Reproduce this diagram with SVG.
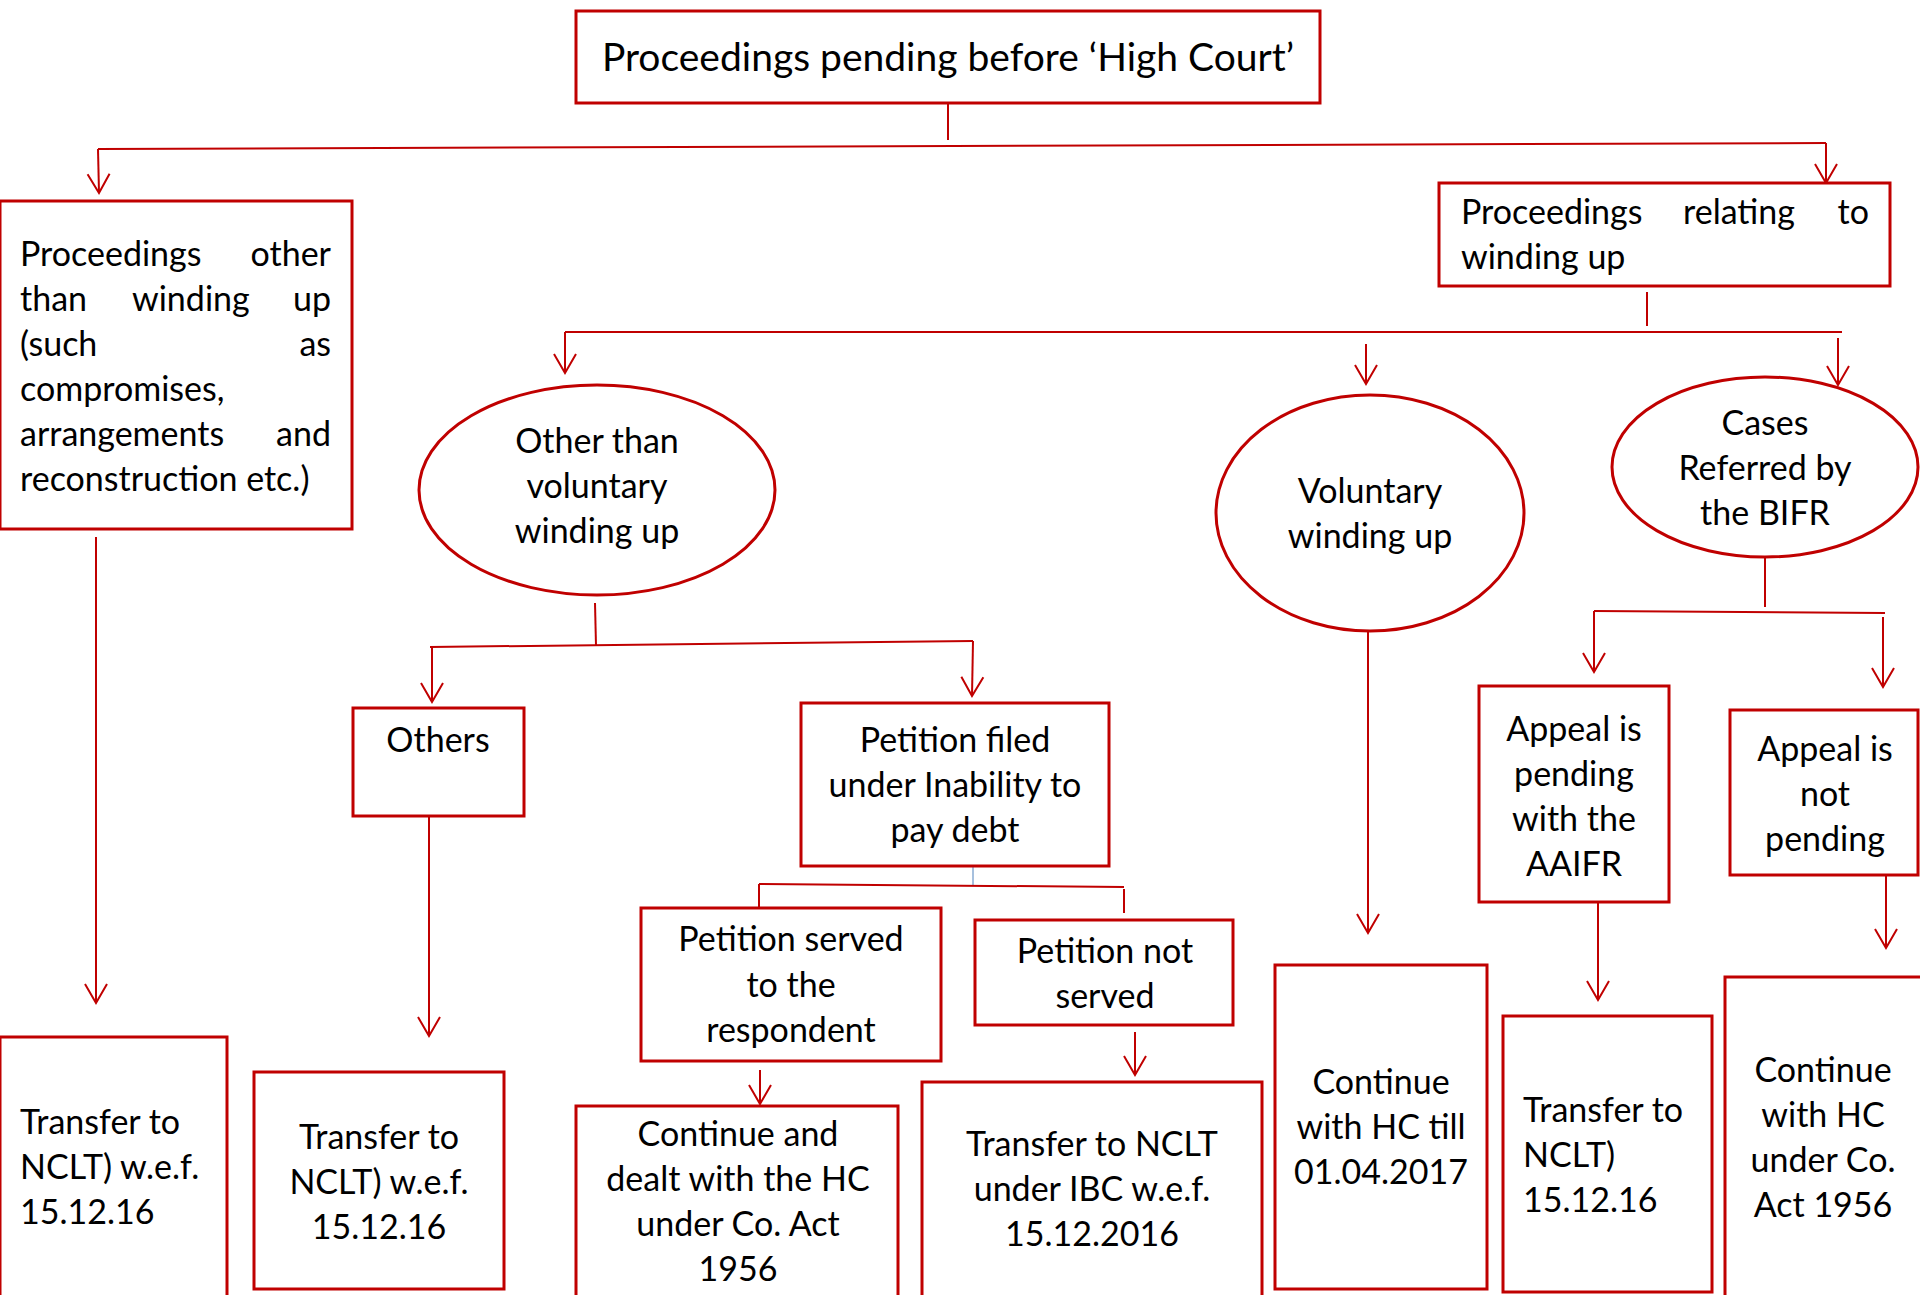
<svg xmlns="http://www.w3.org/2000/svg" width="1920" height="1295" viewBox="0 0 1920 1295">
<style>
.box{fill:#fff;stroke:#C00000;stroke-width:3}
.ell{fill:#fff;stroke:#C00000;stroke-width:3}
.ln{fill:none;stroke:#C00000;stroke-width:2}
.arr{fill:none;stroke:#C00000;stroke-width:2;marker-end:url(#ah)}
.blue{fill:none;stroke:#4F81BD;stroke-width:1}
text{font-family:Lato,"Open Sans","Liberation Sans",sans-serif;font-size:34px;fill:#000}
.c{text-anchor:middle}
.e{text-anchor:end}
</style>
<defs>
<marker id="ah" markerUnits="userSpaceOnUse" viewBox="0 0 22 26" refX="20" refY="13" markerWidth="22" markerHeight="26" orient="auto">
<path d="M1,2 L20,13 L1,24" fill="none" stroke="#C00000" stroke-width="2"/>
</marker>
</defs>
<rect width="1920" height="1295" fill="#fff"/>
<g id="connectors">
<line class="ln" x1="948" y1="104" x2="948" y2="140"/>
<line class="ln" x1="98" y1="149" x2="1826" y2="143"/>
<line class="arr" x1="98" y1="149" x2="99" y2="193"/>
<line class="arr" x1="1826" y1="143" x2="1826" y2="183"/>
<line class="ln" x1="1647" y1="292" x2="1647" y2="326"/>
<line class="ln" x1="565" y1="332" x2="1842" y2="332"/>
<line class="arr" x1="565" y1="332" x2="565" y2="373"/>
<line class="arr" x1="1366" y1="344" x2="1366" y2="384"/>
<line class="arr" x1="1838" y1="338" x2="1838" y2="385"/>
<line class="ln" x1="595" y1="603" x2="596" y2="646"/>
<line class="ln" x1="430" y1="647" x2="973" y2="641"/>
<line class="arr" x1="432" y1="647" x2="432" y2="702"/>
<line class="arr" x1="973" y1="641" x2="972" y2="696"/>
<line class="arr" x1="96" y1="537" x2="96" y2="1003"/>
<line class="arr" x1="429" y1="817" x2="429" y2="1036"/>
<line class="blue" x1="973" y1="867" x2="973" y2="886"/>
<line class="ln" x1="759" y1="908" x2="759" y2="884"/>
<line class="ln" x1="759" y1="884" x2="1124" y2="887"/>
<line class="ln" x1="1124" y1="889" x2="1124" y2="913"/>
<line class="arr" x1="760" y1="1070" x2="760" y2="1104"/>
<line class="arr" x1="1135" y1="1032" x2="1135" y2="1075"/>
<line class="arr" x1="1368" y1="631" x2="1368" y2="933"/>
<line class="ln" x1="1765" y1="557" x2="1765" y2="607"/>
<line class="ln" x1="1594" y1="611" x2="1885" y2="613"/>
<line class="arr" x1="1594" y1="611" x2="1594" y2="672"/>
<line class="arr" x1="1883" y1="617" x2="1883" y2="687"/>
<line class="arr" x1="1598" y1="903" x2="1598" y2="1000"/>
<line class="arr" x1="1886" y1="876" x2="1886" y2="948"/>
</g>
<g id="n-root">
<rect class="box" x="576" y="11" width="744" height="92"/>
<text class="c" x="948" y="71" style="font-size:39px">Proceedings pending before ‘High Court’</text>
</g>
<g id="n-other-than-winding">
<rect class="box" x="0" y="201" width="352" height="328"/>
<text x="20" y="266">Proceedings</text><text class="e" x="331" y="266">other</text>
<text x="20" y="311">than</text><text x="132" y="311">winding</text><text class="e" x="331" y="311">up</text>
<text x="20" y="356">(such</text><text class="e" x="331" y="356">as</text>
<text x="20" y="401">compromises,</text>
<text x="20" y="446">arrangements</text><text class="e" x="331" y="446">and</text>
<text x="20" y="491">reconstruction etc.)</text>
</g>
<g id="n-winding">
<rect class="box" x="1439" y="183" width="451" height="103"/>
<text x="1461" y="224">Proceedings</text><text x="1683" y="224">relating</text><text class="e" x="1869" y="224">to</text>
<text x="1461" y="269">winding up</text>
</g>
<g id="n-other-voluntary">
<ellipse class="ell" cx="597" cy="490" rx="178" ry="105"/>
<text class="c" x="597" y="453">Other than</text>
<text class="c" x="597" y="498">voluntary</text>
<text class="c" x="597" y="543">winding up</text>
</g>
<g id="n-voluntary">
<ellipse class="ell" cx="1370" cy="513" rx="154" ry="118"/>
<text class="c" x="1370" y="503">Voluntary</text>
<text class="c" x="1370" y="548">winding up</text>
</g>
<g id="n-bifr">
<ellipse class="ell" cx="1765" cy="467" rx="153" ry="90"/>
<text class="c" x="1765" y="435">Cases</text>
<text class="c" x="1765" y="480">Referred by</text>
<text class="c" x="1765" y="525">the BIFR</text>
</g>
<g id="n-others">
<rect class="box" x="353" y="708" width="171" height="108"/>
<text class="c" x="438" y="752">Others</text>
</g>
<g id="n-petition-filed">
<rect class="box" x="801" y="703" width="308" height="163"/>
<text class="c" x="955" y="752">Petition filed</text>
<text class="c" x="955" y="797">under Inability to</text>
<text class="c" x="955" y="842">pay debt</text>
</g>
<g id="n-appeal-pending">
<rect class="box" x="1479" y="686" width="190" height="216"/>
<text class="c" x="1574" y="741">Appeal is</text>
<text class="c" x="1574" y="786">pending</text>
<text class="c" x="1574" y="831">with the</text>
<text class="c" x="1574" y="876">AAIFR</text>
</g>
<g id="n-appeal-not-pending">
<rect class="box" x="1730" y="710" width="188" height="165"/>
<text class="c" x="1825" y="761">Appeal is</text>
<text class="c" x="1825" y="806">not</text>
<text class="c" x="1825" y="851">pending</text>
</g>
<g id="n-served">
<rect class="box" x="641" y="908" width="300" height="153"/>
<text class="c" x="791" y="951">Petition served</text>
<text class="c" x="791" y="997">to the</text>
<text class="c" x="791" y="1042">respondent</text>
</g>
<g id="n-not-served">
<rect class="box" x="975" y="920" width="258" height="105"/>
<text class="c" x="1105" y="963">Petition not</text>
<text class="c" x="1105" y="1008">served</text>
</g>
<g id="n-transfer-1">
<rect class="box" x="0" y="1037" width="227" height="260"/>
<text x="20" y="1134">Transfer to</text>
<text x="20" y="1179">NCLT) w.e.f.</text>
<text x="20" y="1224">15.12.16</text>
</g>
<g id="n-transfer-2">
<rect class="box" x="254" y="1072" width="250" height="217"/>
<text class="c" x="379" y="1149">Transfer to</text>
<text class="c" x="379" y="1194">NCLT) w.e.f.</text>
<text class="c" x="379" y="1239">15.12.16</text>
</g>
<g id="n-continue-co-act">
<rect class="box" x="576" y="1106" width="322" height="195"/>
<text class="c" x="738" y="1146">Continue and</text>
<text class="c" x="738" y="1191">dealt with the HC</text>
<text class="c" x="738" y="1236">under Co. Act</text>
<text class="c" x="738" y="1281">1956</text>
</g>
<g id="n-transfer-ibc">
<rect class="box" x="922" y="1082" width="340" height="220"/>
<text class="c" x="1092" y="1156">Transfer to NCLT</text>
<text class="c" x="1092" y="1201">under IBC w.e.f.</text>
<text class="c" x="1092" y="1246">15.12.2016</text>
</g>
<g id="n-continue-till">
<rect class="box" x="1275" y="965" width="212" height="324"/>
<text class="c" x="1381" y="1094">Continue</text>
<text class="c" x="1381" y="1139">with HC till</text>
<text class="c" x="1381" y="1184">01.04.2017</text>
</g>
<g id="n-transfer-3">
<rect class="box" x="1503" y="1016" width="209" height="276"/>
<text x="1523" y="1122">Transfer to</text>
<text x="1523" y="1167">NCLT)</text>
<text x="1523" y="1212">15.12.16</text>
</g>
<g id="n-continue-hc">
<rect class="box" x="1725" y="977" width="197" height="330"/>
<text class="c" x="1823" y="1082">Continue</text>
<text class="c" x="1823" y="1127">with HC</text>
<text class="c" x="1823" y="1172">under Co.</text>
<text class="c" x="1823" y="1217">Act 1956</text>
</g>
</svg>
